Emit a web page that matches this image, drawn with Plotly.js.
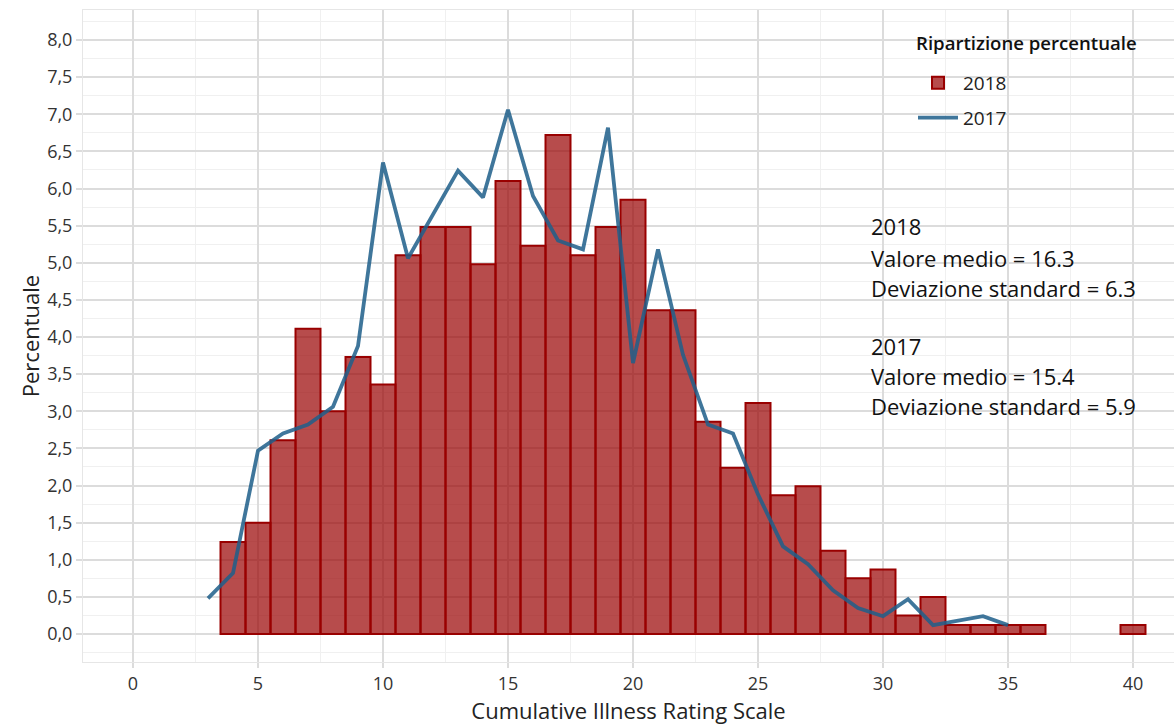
<!DOCTYPE html>
<html>
<head>
<meta charset="utf-8">
<script src="https://cdn.plot.ly/plotly-3.0.1.min.js"></script>
<style>html,body{margin:0;padding:0;background:#fff;}#chart{width:1174px;height:726px;}</style>
</head>
<body>
<div id="chart"></div>
<script>
// 2018 histogram (percent per CIRS score)
const cirs2018 = [4,5,6,7,8,9,10,11,12,13,14,15,16,17,18,19,20,21,22,23,24,25,26,27,28,29,30,31,32,33,34,35,36,40];
const pct2018 = [1.24,1.50,2.61,4.11,3.00,3.73,3.36,5.10,5.48,5.48,4.98,6.10,5.23,6.72,5.10,5.48,5.85,4.36,4.36,2.86,2.24,3.11,1.87,1.99,1.12,0.75,0.87,0.25,0.50,0.12,0.12,0.12,0.12,0.12];
// 2017 frequency polygon
const cirs2017 = [3,4,5,6,7,8,9,10,11,12,13,14,15,16,17,18,19,20,21,22,23,24,25,26,27,28,29,30,31,32,33,34,35];
const pct2017 = [0.48,0.82,2.47,2.70,2.82,3.06,3.88,6.35,5.06,5.65,6.24,5.88,7.06,5.90,5.30,5.18,6.82,3.65,5.18,3.76,2.82,2.70,1.88,1.18,0.94,0.59,0.35,0.24,0.47,0.12,0.18,0.24,0.12];
const xTicks = [0,5,10,15,20,25,30,35,40];
const yTicks = [0,0.5,1,1.5,2,2.5,3,3.5,4,4.5,5,5.5,6,6.5,7,7.5,8];
const legendTitle = "Ripartizione percentuale";
const statsLines = ["2018","Valore medio = 16.3","Deviazione standard = 6.3","","2017","Valore medio = 15.4","Deviazione standard = 5.9"];

const FONT = "Open Sans, Noto Sans, sans-serif";
const grid = "#dcdcdc", minorGrid = "#f0f0f0";

const traces = [
  {type:"bar", name:"2018", x:cirs2018, y:pct2018, width:1, legendgroup:"a",
   marker:{color:"rgba(153,0,0,0.7)", line:{color:"#990000", width:2}}},
  {type:"scatter", mode:"lines", name:"2017", x:cirs2017, y:pct2017, legendgroup:"b",
   line:{color:"rgba(31,95,139,0.86)", width:3.8}}
];

const x0 = 133, ppx = 25, y0 = 634, ppy = 74.25;
const annotations = [];
const lineY = [226,258,288,317,346,376,406];
statsLines.forEach((t,i)=>{
  if(!t) return;
  annotations.push({text:t, xref:"x", yref:"y", x:(869-x0)/ppx, y:(y0-lineY[i])/ppy,
    xanchor:"left", yanchor:"middle", showarrow:false, align:"left",
    font:{family:FONT, size:22, color:"#111"}});
});
annotations.push({text:legendTitle, xref:"x", yref:"y", x:(914-x0)/ppx, y:(y0-42)/ppy,
  xanchor:"left", yanchor:"middle", showarrow:false,
  font:{family:FONT, size:18.6, color:"#111", weight:600}});

const layout = {
  width:1174, height:726,
  margin:{l:83, r:0, t:10, b:64},
  paper_bgcolor:"#fff", plot_bgcolor:"#fff",
  separators:",.",
  font:{family:FONT, color:"#222"},
  bargap:0,
  showlegend:true,
  legend:{x:(913-83)/1091, y:(662-64)/652, xanchor:"left", yanchor:"top", bgcolor:"rgba(0,0,0,0)",
    traceorder:"grouped", tracegroupgap:7,
    font:{family:FONT, size:19, color:"#222"}, itemwidth:40},
  xaxis:{range:[-2,41.64], tickvals:xTicks, ticktext:xTicks.map(String),
    showgrid:true, gridcolor:grid, gridwidth:2, zeroline:false,
    minor:{dtick:2.5, tick0:0, showgrid:true, gridcolor:minorGrid, gridwidth:1},
    ticks:"outside", ticklen:5, tickwidth:2, tickcolor:grid,
    showline:true, linecolor:"#e6e6e6", linewidth:1, mirror:true,
    tickfont:{family:FONT, size:18, color:"#333"},
    title:{text:"Cumulative Illness Rating Scale", font:{family:FONT, size:22, color:"#222"}, standoff:8}},
  yaxis:{range:[-0.377,8.404], tickvals:yTicks, tickformat:".1f",
    showgrid:true, gridcolor:grid, gridwidth:2, zeroline:false,
    minor:{dtick:0.25, tick0:0, showgrid:true, gridcolor:minorGrid, gridwidth:1},
    ticks:"outside", ticklen:6, tickwidth:2, tickcolor:grid,
    showline:true, linecolor:"#e6e6e6", linewidth:1, mirror:true,
    tickfont:{family:FONT, size:18, color:"#333"},
    title:{text:"Percentuale", font:{family:FONT, size:22, color:"#222"}, standoff:1}},
  shapes:[
    {type:"rect", xref:"x", yref:"y", layer:"below", line:{width:0}, fillcolor:"#fff",
     x0:(900-x0)/ppx, x1:41.64, y0:(y0-155)/ppy, y1:8.404},
    {type:"rect", xref:"x", yref:"y", layer:"below", line:{width:0}, fillcolor:"#fff",
     x0:(862-x0)/ppx, x1:(1142-x0)/ppx, y0:(y0-414)/ppy, y1:(y0-214)/ppy}
  ],
  annotations:annotations
};

Plotly.newPlot("chart", traces, layout, {displayModeBar:false, staticPlot:true});
</script>
</body>
</html>
